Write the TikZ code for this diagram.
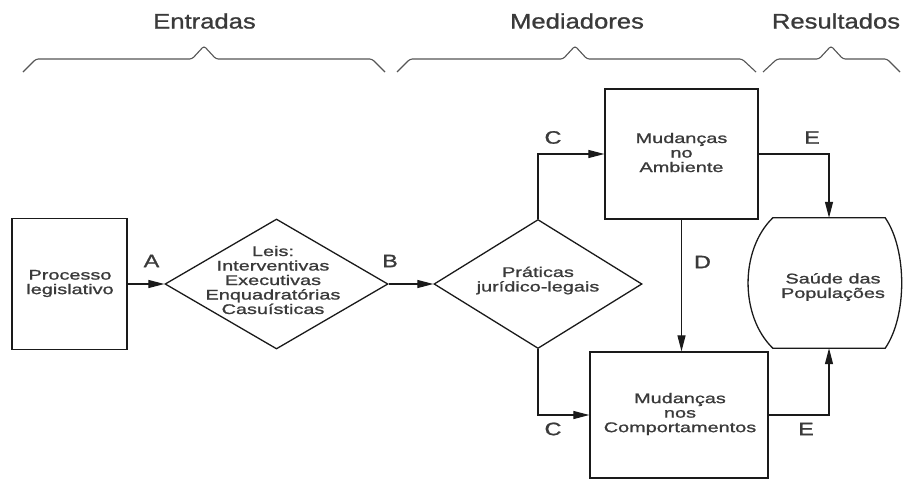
\documentclass[tikz,border=0pt]{standalone}
\usepackage{fontspec}
\setmainfont{Liberation Sans}
\newfontfamily\nodefont{Liberation Sans}[FakeStretch=1.42,FakeBold=1.2]
\newfontfamily\labfont{Liberation Sans}[FakeStretch=1.3,FakeBold=1.2]
\newfontfamily\headfont{Liberation Sans}[FakeStretch=1.22,FakeBold=1]
\usetikzlibrary{shapes.geometric,arrows.meta,calc}
\definecolor{linec}{HTML}{1A1A1A}
\definecolor{textc}{HTML}{3A3A3A}
\definecolor{bracec}{HTML}{555555}
\begin{document}
\begin{tikzpicture}[x=1pt,y=-1pt,
  box/.style={draw=linec, line width=1.3pt, rectangle, inner sep=0pt},
  dia/.style={draw=linec, line width=1.3pt, diamond, inner sep=0pt},
  txt/.style={text=textc, font=\nodefont\fontsize{14}{14.5}\selectfont, align=center, inner sep=0pt},
  lab/.style={text=textc, font=\labfont\fontsize{18}{18}\selectfont, inner sep=0pt},
  head/.style={text=textc, font=\headfont\fontsize{21}{21}\selectfont, inner sep=0pt},
  arr/.style={draw=linec, line width=1.2pt, -{Triangle[length=16pt,width=8pt]}},
  bracel/.style={draw=bracec, line width=1.1pt, rounded corners=2.5pt},
  edge/.style={draw=linec, line width=1.3pt}]
\useasboundingbox (0,0) rectangle (904,480);

% headings
\node[head] (hent) at (204.5,21) {Entradas};
\node[head] (hmed) at (577,21) {Mediadores};
\node[head] (hres) at (836,21) {Resultados};

% braces
\draw[bracel] (23,72) -- (36,59) -- (192,59) -- (204,46) -- (216,59) -- (372,59) -- (385,72);
\draw[bracel] (397,72) -- (410,59) -- (563,59) -- (575,46) -- (587,59) -- (742,59) -- (756,72);
\draw[bracel] (763,72) -- (777,59) -- (819,59) -- (831,46) -- (843,59) -- (887,59) -- (900,72);

% nodes
\node[box, minimum width=115pt, minimum height=131pt] (proc) at (69.5,284) {};
\node[txt] (proct) at (70,283.5) {Processo\\legislativo};

\node[dia, minimum width=223pt, minimum height=130pt] (leis) at (276.5,284) {};
\node[txt] (leist) at (273,280) {Leis:\\Interventivas\\Executivas\\Enquadratórias\\Casuísticas};

\node[dia, minimum width=208pt, minimum height=129pt] (prat) at (538,284) {};
\node[txt] (pratt) at (538,280.5) {Práticas\\jurídico-legais};

\node[box, minimum width=153pt, minimum height=130pt] (amb) at (681.5,154) {};
\node[txt] (ambt) at (681.5,152.5) {Mudanças\\no\\Ambiente};

\node[box, minimum width=178pt, minimum height=126pt] (comp) at (679,415) {};
\node[txt] (compt) at (680,414) {Mudanças\\nos\\Comportamentos};

\node[minimum width=112pt, minimum height=130pt, inner sep=0pt] (saude) at (829,283) {};
\draw[edge] (saude.north west) -- (saude.north east)
  .. controls ($(saude.north east)+(22,32)$) and ($(saude.south east)+(22,-32)$) .. (saude.south east)
  -- (saude.south west)
  .. controls ($(saude.south west)+(-33,-32)$) and ($(saude.north west)+(-33,32)$) .. (saude.north west) -- cycle;
\node[txt] (saudet) at (833,287) {Saúde das\\Populações};

% connectors
\draw[arr] (proc.east) -- (leis.west);
\draw[arr] (leis.east) -- (prat.west);
\draw[arr] (prat.north) |- (amb.west);
\draw[arr] (prat.south) |- (comp.west);
\draw[arr] (amb.south) -- (amb.south |- comp.north);
\draw[arr] (amb.east) -| (saude.north);
\draw[arr] (comp.east) -| (saude.south);

% labels
\node[lab] (la) at (151.5,261) {A};
\node[lab] (lb) at (390,261) {B};
\node[lab] (lc1) at (553,137.5) {C};
\node[lab] (lc2) at (553,429) {C};
\node[lab] (ld) at (702.5,262) {D};
\node[lab] (le1) at (812,137.5) {E};
\node[lab] (le2) at (806,429) {E};
\end{tikzpicture}
\end{document}
